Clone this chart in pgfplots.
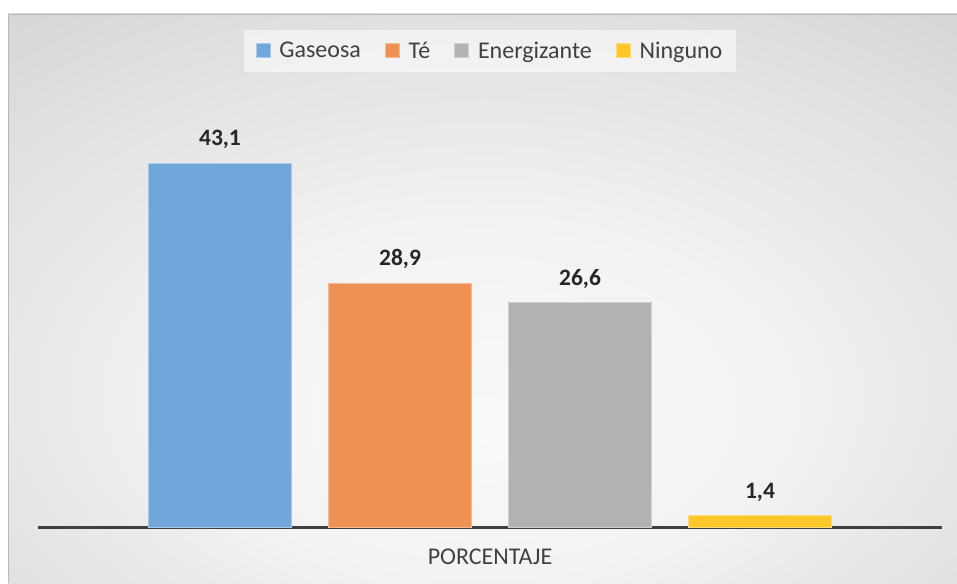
\documentclass[border=0pt]{standalone}
\usepackage{fontspec}
\setmainfont{Carlito}
\usepackage{pgfplots}
\pgfplotsset{compat=1.18}

\definecolor{cGas}{HTML}{70A6DA}
\definecolor{cTe}{HTML}{EF9152}
\definecolor{cEne}{HTML}{B2B2B2}
\definecolor{cNin}{HTML}{FDC72A}
\definecolor{txt}{HTML}{404040}
\definecolor{axl}{HTML}{404040}

\pgfdeclareradialshading{bgshade}{\pgfpoint{0bp}{-12bp}}{%
  color(0bp)=(white!98!black);
  color(16bp)=(white!95!black);
  color(42bp)=(white!83!black);
  color(70bp)=(white!73!black)}

\begin{document}
\begin{tikzpicture}[x=1pt,y=1pt]
  \path[use as bounding box,fill=white] (0,0) rectangle (957,583);
  \shade[shading=bgshade] (8,0) rectangle (957,569);
  \draw[color=white!72!black,line width=0.8pt] (8.4,0) -- (8.4,568.6) -- (957,568.6);
  \begin{axis}[
    at={(38pt,56pt)}, anchor=south west,
    scale only axis,
    width=904pt, height=422.3pt,
    xmin=-1, xmax=1, ymin=0, ymax=50,
    ybar=37pt, bar width=143pt,
    axis x line*=bottom, axis y line=none,
    x axis line style={-, line width=3pt, color=axl},
    xtick=\empty, ytick=\empty,
    clip=false,
    nodes near coords={\pgfmathprintnumber[use comma,fixed,fixed zerofill,precision=1,assume math mode=true]{\pgfplotspointmeta}},
    nodes near coords style={font=\fontsize{23.5}{27}\selectfont\bfseries, text=black!85},
    every node near coord/.append style={anchor=base, inner sep=0pt, yshift=17pt},
    legend columns=4,
    legend style={at={(0.5,1.128)}, anchor=center, draw=none,
      fill=white, fill opacity=0.55, text opacity=1,
      font=\fontsize{24}{28}\selectfont, text=txt,
      inner xsep=12pt, inner ysep=10pt,
      /tikz/every odd column/.append style={column sep=7pt},
      /tikz/every even column/.append style={column sep=22pt}},
    legend image code/.code={\fill[#1, fill opacity=1] (0pt,-7pt) rectangle (14pt,7pt);},
  ]
  \addplot[fill=cGas, draw=cGas!60!white, line width=0.8pt] coordinates {(0,43.1)};
  \addlegendentry{Gaseosa}
  \addplot[fill=cTe, draw=cTe!60!white, line width=0.8pt] coordinates {(0,28.9)};
  \addlegendentry{Té}
  \addplot[fill=cEne, draw=cEne!60!white, line width=0.8pt] coordinates {(0,26.6)};
  \addlegendentry{Energizante}
  \addplot[fill=cNin, draw=cNin!60!white, line width=0.8pt] coordinates {(0,1.4)};
  \addlegendentry{Ninguno}
  \end{axis}
  \node[font=\fontsize{24}{28}\selectfont, text=txt] at (490,26) {PORCENTAJE};
\end{tikzpicture}
\end{document}
